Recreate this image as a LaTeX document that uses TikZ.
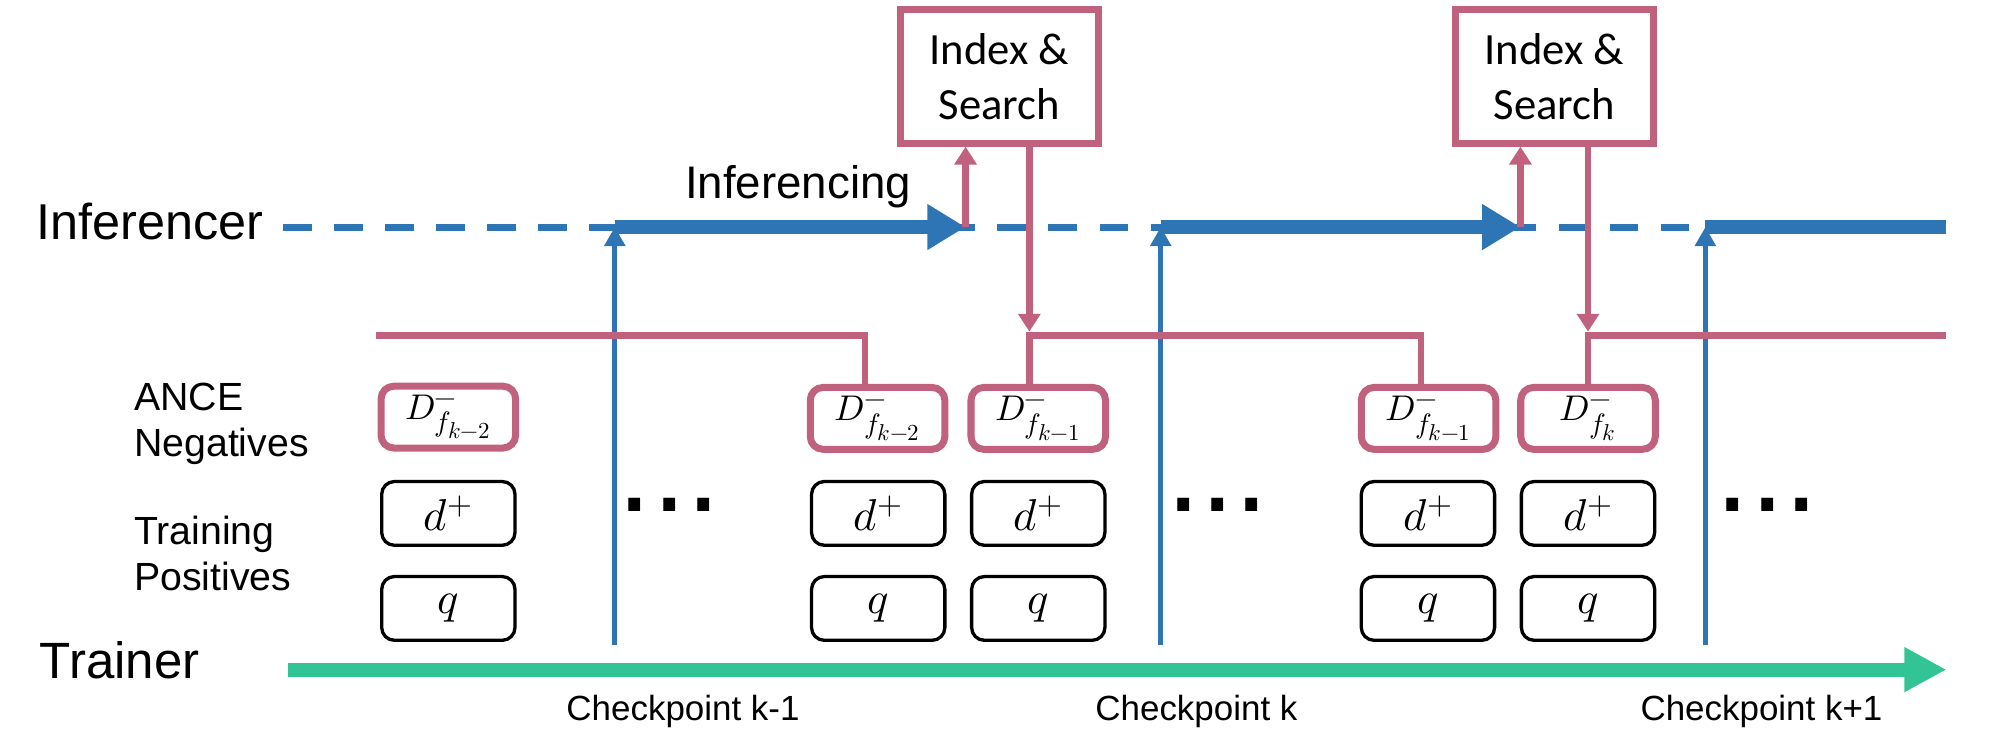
\documentclass[tikz,border=0pt]{standalone}
\usepackage{fontspec}
\usepackage{unicode-math}
\setmainfont{Liberation Sans}
\setmathfont{Latin Modern Math}
\newfontfamily\calibrifont{Carlito}
\DeclareMathSizes{28}{28}{22}{18}
\DeclareMathSizes{35}{35}{25}{18}
\usetikzlibrary{arrows.meta}
\definecolor{iblue}{HTML}{2E75B6}
\definecolor{ipink}{HTML}{C0627E}
\definecolor{igreen}{HTML}{33C496}
\begin{document}
\begin{tikzpicture}[x=1pt,y=-1pt,
  lbl/.style={inner sep=0pt, anchor=base west},
  clbl/.style={inner sep=0pt, anchor=base, font=\fontsize{27.4}{32}\selectfont},
  dbox/.style={draw=ipink, line width=5.5pt, rounded corners=10pt, minimum width=105.5pt, minimum height=48.5pt, inner sep=0pt, font=\fontsize{28}{30}\selectfont},
  bbox/.style={draw=black, line width=2.6pt, rounded corners=10pt, minimum width=104.5pt, minimum height=50pt, inner sep=0pt, font=\fontsize{35}{40}\selectfont},
  ibox/.style={draw=ipink, line width=5.5pt, minimum width=155.5pt, minimum height=104.5pt, inner sep=0pt, align=center, font=\calibrifont\fontsize{35}{43}\selectfont},
  dotsl/.style={inner sep=0pt, anchor=base west, font=\fontsize{97}{100}\selectfont},
  pinkline/.style={draw=ipink, line width=5pt},
  pinkarrow/.style={draw=ipink, line width=5pt, -{Triangle[length=14pt,width=17pt]}},
  bluethick/.style={draw=iblue, line width=10.5pt},
  bluearrow/.style={draw=iblue, line width=4.2pt, -{Triangle[length=15pt,width=16pt]}}
]
\useasboundingbox (0,0) rectangle (1568,589);

% labels
\node[lbl, font=\fontsize{39.5}{46}\selectfont] (linf) at (28.5,188) {Inferencer};
\node[lbl, font=\fontsize{40}{46}\selectfont] (ltr) at (31,531.7) {Trainer};
\node[lbl, font=\fontsize{35.8}{42}\selectfont] (linfg) at (537,155.3) {Inferencing};
\node[lbl, align=left, font=\fontsize{30.8}{36}\selectfont] (lance) at (105,358) {ANCE\\Negatives};
\node[lbl, align=left, font=\fontsize{30.8}{36}\selectfont] (ltp) at (105,463) {Training\\Positives};
\node[clbl] (ck1) at (535.5,564.5) {Checkpoint k-1};
\node[clbl] (ck2) at (938,564.5) {Checkpoint k};
\node[clbl] (ck3) at (1381,564.5) {Checkpoint k+1};

% inferencer timeline
\coordinate (ds) at (222,178);
\coordinate (de) at (1526,178);
\coordinate (s1) at (482,178);
\coordinate (e1) at (757,178);
\coordinate (s2) at (910,178);
\coordinate (e2) at (1192,178);
\coordinate (s3) at (1337,178);
\draw[iblue, line width=5.5pt, dash pattern=on 22.5pt off 17.5pt] (ds) -- (de);
\draw[bluethick, -{Triangle[length=30pt,width=34pt]}] (s1) -- (e1);
\draw[bluethick, -{Triangle[length=30pt,width=34pt]}] (s2) -- (e2);
\draw[bluethick] (s3) -- (de);

% trainer timeline
\coordinate (ts) at (226,525);
\coordinate (te) at (1526,525);
\draw[igreen, line width=11pt, -{Triangle[length=33pt,width=33pt]}] (ts) -- (te);

% checkpoint arrows
\coordinate (b1) at (482,506);
\coordinate (b2) at (910,506);
\coordinate (b3) at (1337,506);
\draw[bluearrow] (b1) -- (s1);
\draw[bluearrow] (b2) -- (s2);
\draw[bluearrow] (b3) -- (s3);

% index & search boxes
\node[ibox] (is1) at (783.5,60) {Index \&\\Search};
\node[ibox] (is2) at (1218.5,60) {Index \&\\Search};

% training data boxes
\node[dbox] (c1D) at (351.5,327) {$D^{-}_{f_{k-2}}$};
\node[bbox] (c1d) at (351.5,402.5) {$d^{+}$};
\node[bbox] (c1q) at (351.5,477) {$q$};
\node[dbox] (c2D) at (688,328) {$D^{-}_{f_{k-2}}$};
\node[bbox] (c2d) at (688.5,402.5) {$d^{+}$};
\node[bbox] (c2q) at (688.5,477) {$q$};
\node[dbox] (c3D) at (814,328) {$D^{-}_{f_{k-1}}$};
\node[bbox] (c3d) at (814,402.5) {$d^{+}$};
\node[bbox] (c3q) at (814,477) {$q$};
\node[dbox] (c4D) at (1120,328) {$D^{-}_{f_{k-1}}$};
\node[bbox] (c4d) at (1119.5,402.5) {$d^{+}$};
\node[bbox] (c4q) at (1119.5,477) {$q$};
\node[dbox] (c5D) at (1245,328) {$D^{-}_{f_{k}}$};
\node[bbox] (c5d) at (1245,402.5) {$d^{+}$};
\node[bbox] (c5q) at (1245,477) {$q$};

% dots
\node[dotsl] (dt1) at (484,401) {...};
\node[dotsl] (dt2) at (914,401) {...};
\node[dotsl] (dt3) at (1345,401) {...};

% pink negative-distribution lines
\coordinate (aL) at (295,263);
\coordinate (lA) at (678,263);
\coordinate (cB) at (807,263);
\coordinate (lB) at (1114,263);
\coordinate (cC) at (1245,263);
\coordinate (cE) at (1526,263);
\coordinate (tB) at (807,260);
\coordinate (tC) at (1245,260);
\draw[pinkline] (aL) -- (lA) -- (lA |- c2D.north);
\draw[pinkline] (cB |- c3D.north) -- (cB) -- (lB) -- (lB |- c4D.north);
\draw[pinkline] (cC |- c5D.north) -- (cC) -- (cE);

% pink arrows
\draw[pinkarrow] (e1) -- (e1 |- is1.south);
\draw[pinkarrow] (is1.south -| tB) -- (tB);
\draw[pinkarrow] (e2) -- (e2 |- is2.south);
\draw[pinkarrow] (is2.south -| tC) -- (tC);
\end{tikzpicture}
\end{document}
